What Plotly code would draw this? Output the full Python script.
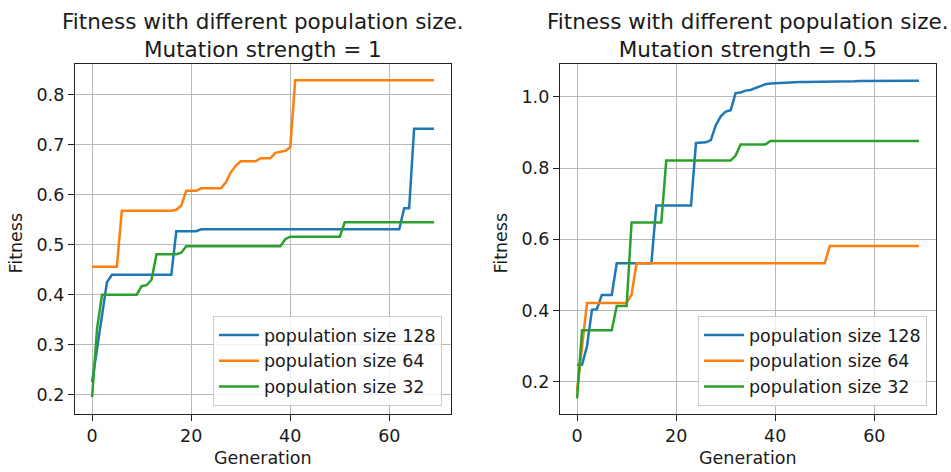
import plotly.graph_objects as go

generations = list(range(70))

# Mutation strength = 1
left_128 = [0.225, 0.29, 0.36, 0.425, 0.44, 0.44, 0.44, 0.44, 0.44, 0.44,
            0.44, 0.44, 0.44, 0.44, 0.44, 0.44, 0.44, 0.527, 0.527, 0.527,
            0.527, 0.527, 0.531, 0.531, 0.531, 0.531, 0.531, 0.531, 0.531, 0.531,
            0.531, 0.531, 0.531, 0.531, 0.531, 0.531, 0.531, 0.531, 0.531, 0.531,
            0.531, 0.531, 0.531, 0.531, 0.531, 0.531, 0.531, 0.531, 0.531, 0.531,
            0.531, 0.531, 0.531, 0.531, 0.531, 0.531, 0.531, 0.531, 0.531, 0.531,
            0.531, 0.531, 0.531, 0.573, 0.573, 0.732, 0.732, 0.732, 0.732, 0.732]
left_64 = [0.456, 0.456, 0.456, 0.456, 0.456, 0.456, 0.568, 0.568, 0.568, 0.568,
           0.568, 0.568, 0.568, 0.568, 0.568, 0.568, 0.568, 0.570, 0.578, 0.608,
           0.608, 0.608, 0.613, 0.613, 0.613, 0.613, 0.613, 0.625, 0.645, 0.658,
           0.667, 0.667, 0.667, 0.667, 0.673, 0.673, 0.673, 0.684, 0.686, 0.688,
           0.695, 0.829, 0.829, 0.829, 0.829, 0.829, 0.829, 0.829, 0.829, 0.829,
           0.829, 0.829, 0.829, 0.829, 0.829, 0.829, 0.829, 0.829, 0.829, 0.829,
           0.829, 0.829, 0.829, 0.829, 0.829, 0.829, 0.829, 0.829, 0.829, 0.829]
left_32 = [0.195, 0.332, 0.40, 0.40, 0.40, 0.40, 0.40, 0.40, 0.40, 0.40,
           0.417, 0.419, 0.43, 0.481, 0.481, 0.481, 0.481, 0.481, 0.484, 0.497,
           0.497, 0.497, 0.497, 0.497, 0.497, 0.497, 0.497, 0.497, 0.497, 0.497,
           0.497, 0.497, 0.497, 0.497, 0.497, 0.497, 0.497, 0.497, 0.497, 0.511,
           0.516, 0.516, 0.516, 0.516, 0.516, 0.516, 0.516, 0.516, 0.516, 0.516,
           0.516, 0.545, 0.545, 0.545, 0.545, 0.545, 0.545, 0.545, 0.545, 0.545,
           0.545, 0.545, 0.545, 0.545, 0.545, 0.545, 0.545, 0.545, 0.545, 0.545]

# Mutation strength = 0.5
right_128 = [0.248, 0.248, 0.30, 0.402, 0.404, 0.444, 0.444, 0.444, 0.533, 0.533,
             0.533, 0.533, 0.533, 0.533, 0.533, 0.533, 0.695, 0.695, 0.695, 0.695,
             0.695, 0.695, 0.695, 0.695, 0.870, 0.872, 0.872, 0.878, 0.920, 0.945,
             0.958, 0.962, 1.010, 1.012, 1.017, 1.019, 1.024, 1.030, 1.035, 1.037,
             1.038, 1.039, 1.040, 1.040, 1.041, 1.041, 1.041, 1.041, 1.042, 1.042,
             1.042, 1.042, 1.043, 1.043, 1.043, 1.043, 1.043, 1.044, 1.044, 1.044,
             1.044, 1.044, 1.044, 1.045, 1.045, 1.045, 1.045, 1.045, 1.045, 1.045]
right_64 = [0.176, 0.30, 0.421, 0.421, 0.421, 0.421, 0.421, 0.421, 0.421, 0.421,
            0.421, 0.445, 0.533, 0.533, 0.533, 0.533, 0.533, 0.533, 0.533, 0.533,
            0.533, 0.533, 0.533, 0.533, 0.533, 0.533, 0.533, 0.533, 0.533, 0.533,
            0.533, 0.533, 0.533, 0.533, 0.533, 0.533, 0.533, 0.533, 0.533, 0.533,
            0.533, 0.533, 0.533, 0.533, 0.533, 0.533, 0.533, 0.533, 0.533, 0.533,
            0.533, 0.581, 0.581, 0.581, 0.581, 0.581, 0.581, 0.581, 0.581, 0.581,
            0.581, 0.581, 0.581, 0.581, 0.581, 0.581, 0.581, 0.581, 0.581, 0.581]
right_32 = [0.154, 0.345, 0.345, 0.345, 0.345, 0.345, 0.345, 0.345, 0.413, 0.413,
            0.413, 0.647, 0.647, 0.647, 0.647, 0.647, 0.647, 0.647, 0.821, 0.821,
            0.821, 0.821, 0.821, 0.821, 0.821, 0.821, 0.821, 0.821, 0.821, 0.821,
            0.821, 0.821, 0.835, 0.866, 0.866, 0.866, 0.866, 0.866, 0.866, 0.876,
            0.876, 0.876, 0.876, 0.876, 0.876, 0.876, 0.876, 0.876, 0.876, 0.876,
            0.876, 0.876, 0.876, 0.876, 0.876, 0.876, 0.876, 0.876, 0.876, 0.876,
            0.876, 0.876, 0.876, 0.876, 0.876, 0.876, 0.876, 0.876, 0.876, 0.876]

series_names = ["population size 128", "population size 64", "population size 32"]
colors = ["#1f77b4", "#ff7f0e", "#2ca02c"]
titles = ["Fitness with different population size.<br>Mutation strength = 1",
          "Fitness with different population size.<br>Mutation strength = 0.5"]
x_label = "Generation"
y_label = "Fitness"
x_ticks = [0, 20, 40, 60]
left_y_ticks = [0.2, 0.3, 0.4, 0.5, 0.6, 0.7, 0.8]
right_y_ticks = [0.2, 0.4, 0.6, 0.8, 1.0]

W, H = 951, 472
FONT = "DejaVu Sans"
FS = 17.5
TXT = "#1a1a1a"

fig = go.Figure()
for vals, name, col in zip([left_128, left_64, left_32], series_names, colors):
    fig.add_trace(go.Scatter(x=generations, y=vals, mode="lines", name=name,
                             line=dict(color=col, width=2.5), xaxis="x", yaxis="y",
                             legend="legend"))
for vals, name, col in zip([right_128, right_64, right_32], series_names, colors):
    fig.add_trace(go.Scatter(x=generations, y=vals, mode="lines", name=name,
                             line=dict(color=col, width=2.5), xaxis="x2", yaxis="y2",
                             legend="legend2"))

def px_x(p):
    return p / W

def px_y(p):
    return 1 - p / H

axis_common = dict(showline=True, mirror=True, linecolor="#222", linewidth=1.4,
                   ticks="outside", ticklen=6, tickwidth=1.4, tickcolor="#222",
                   showgrid=True, gridcolor="#b8b8b8", gridwidth=1.3,
                   zeroline=False, tickfont=dict(family=FONT, size=FS, color=TXT))

xd1 = [px_x(75), px_x(451)]
xd2 = [px_x(560), px_x(936)]
yd = [px_y(414), px_y(64)]

legend_common = dict(xanchor="right", yanchor="bottom",
                     bgcolor="rgba(255,255,255,0.8)", bordercolor="#cccccc", borderwidth=1,
                     font=dict(family=FONT, size=FS, color=TXT), tracegroupgap=0,
                     itemwidth=40)

fig.update_layout(
    width=W, height=H,
    margin=dict(l=0, r=0, t=0, b=0),
    paper_bgcolor="white", plot_bgcolor="white",
    font=dict(family=FONT, size=FS, color=TXT),
    xaxis=dict(domain=xd1, anchor="y", range=[-3.45, 72.45], tickvals=x_ticks, **axis_common),
    yaxis=dict(domain=yd, anchor="x", range=[0.1613, 0.8617], tickvals=left_y_ticks,
               tickformat=".1f", **axis_common),
    xaxis2=dict(domain=xd2, anchor="y2", range=[-3.45, 72.45], tickvals=x_ticks, **axis_common),
    yaxis2=dict(domain=yd, anchor="x2", range=[0.1100, 1.0917], tickvals=right_y_ticks,
                tickformat=".1f", **axis_common),
    legend=dict(x=px_x(442), y=px_y(406), **legend_common),
    legend2=dict(x=px_x(927), y=px_y(406), **legend_common),
    showlegend=True,
)

annotations = []
for xc, t in zip([(75 + 451) / 2, (560 + 936) / 2], titles):
    annotations.append(dict(text=t, x=px_x(xc), y=px_y(35), xref="paper", yref="paper",
                            xanchor="center", yanchor="middle", showarrow=False,
                            font=dict(family=FONT, size=21.5, color=TXT)))
    annotations.append(dict(text=x_label, x=px_x(xc), y=px_y(458), xref="paper", yref="paper",
                            xanchor="center", yanchor="middle", showarrow=False,
                            font=dict(family=FONT, size=FS, color=TXT)))
for xc in [15.5, 500.5]:
    annotations.append(dict(text=y_label, x=px_x(xc), y=px_y(243), xref="paper", yref="paper",
                            xanchor="center", yanchor="middle", showarrow=False, textangle=-90,
                            font=dict(family=FONT, size=FS, color=TXT)))
fig.update_layout(annotations=annotations)

fig.write_html("out.html", config={"displayModeBar": False},
               post_script="document.body.style.margin='0';document.body.style.overflow='hidden';")
